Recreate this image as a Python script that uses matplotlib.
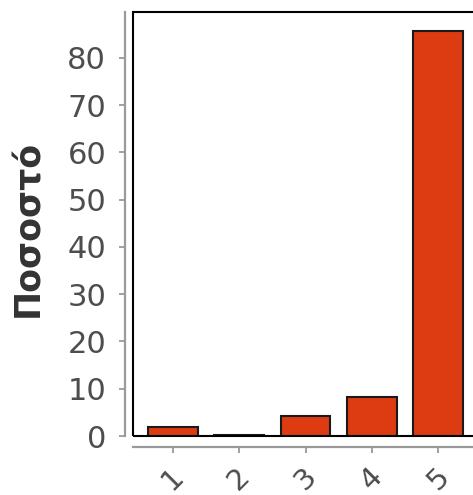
import matplotlib
matplotlib.use("Agg")
import matplotlib.pyplot as plt
from matplotlib.patches import Rectangle

categories = ["1", "2", "3", "4", "5"]
values = [2.0, 0.2, 4.3, 8.2, 85.6]
yticks = [0, 10, 20, 30, 40, 50, 60, 70, 80]

W, H = 473, 495
fig = plt.figure(figsize=(W / 100, H / 100), dpi=100)
ax = fig.add_axes([133 / W, 1 - 436 / H, (478 - 133) / W, (436 - 12) / H])

x = list(range(1, len(categories) + 1))
ax.bar(x, values, width=0.75, color="#DD3B12", edgecolor="#1a1a1a", linewidth=1.5, zorder=3)

ax.set_xlim(0.4, 5.6)
ax.set_ylim(0, 89.7)
ax.set_xticks(x)
ax.set_xticklabels(categories)
ax.set_yticks(yticks)

grey = "#9a9a9a"
for s in ["top", "right"]:
    ax.spines[s].set_visible(False)
ax.spines["left"].set_position(("outward", 5.8))
ax.spines["bottom"].set_position(("outward", 7.9))
for s in ["left", "bottom"]:
    ax.spines[s].set_color(grey)
    ax.spines[s].set_linewidth(1.6)

ax.tick_params(axis="both", colors=grey, length=4.5, width=1.3,
               labelsize=22, labelcolor="#4d4d4d")
ax.tick_params(axis="y", pad=9)
ax.tick_params(axis="x", pad=6.5, labelrotation=45, labelsize=21)
for lab in ax.get_xticklabels():
    lab.set_ha("center")
    lab.set_va("top")

ax.add_patch(Rectangle((0, 0), 1, 1, transform=ax.transAxes, fill=False,
                       edgecolor="black", linewidth=1.5, zorder=5, clip_on=False))

ax.set_ylabel("Ποσοστό", fontsize=25, fontweight="bold", color="#333333", va="center")
ax.yaxis.set_label_coords(-0.305, 0.49)

fig.savefig("out.png", dpi=100)
